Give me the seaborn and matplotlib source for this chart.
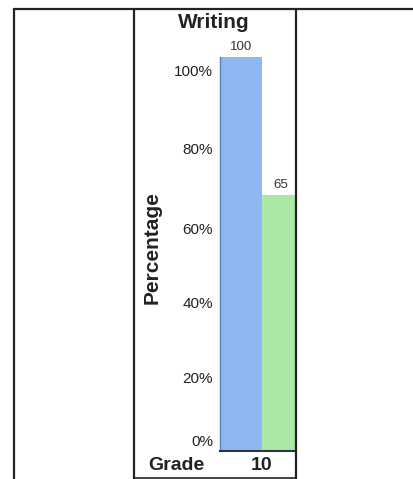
import matplotlib
matplotlib.use("Agg")
import matplotlib.pyplot as plt
import matplotlib.transforms as mtransforms
import seaborn as sns
import pandas as pd
from matplotlib.lines import Line2D

# ---- data ----
grades = ["10", "10"]
series = ["A", "B"]
values = [100, 65]
colors = ["#8FB8F3", "#A9E8A5"]
yticks = [0, 20, 40, 60, 80, 100]
ytick_labels = ["0%", "20%", "40%", "60%", "80%", "100%"]

sns.set_theme(style="white")
plt.rcParams["font.family"] = ["Liberation Sans", "DejaVu Sans"]

W, H = 414, 479
fig = plt.figure(figsize=(W / 100, H / 100), dpi=100)

def fx(px):
    return px / W

def fy(py):
    return 1 - py / H

ax_l, ax_r, ax_t, ax_b = 220, 296, 57, 451
ax = fig.add_axes([fx(ax_l), fy(ax_b), fx(ax_r - ax_l), (ax_b - ax_t) / H])

df = pd.DataFrame({"grade": grades, "series": series, "value": values})
sns.barplot(data=df, x="grade", y="value", hue="series", palette=colors,
            width=0.8, dodge=True, ax=ax, legend=False, saturation=1,
            edgecolor="none")

ax.set_ylim(0, 100)
ax.set_xlim(-0.4, 0.324)
ax.set_yticks(yticks)
ax.set_yticklabels(ytick_labels, fontsize=11, color="#222222")
ax.tick_params(axis="y", length=0, pad=5)
ax.set_xticks([0])
ax.set_xticklabels(["10"], fontsize=14, fontweight="bold", color="#222222")
ax.tick_params(axis="x", length=0, pad=4)
ax.set_xlabel("")
ax.set_ylabel("")
for s in ["top", "right"]:
    ax.spines[s].set_visible(False)
ax.spines["left"].set_color("#5a7fc0")
ax.spines["left"].set_linewidth(1.0)
ax.spines["bottom"].set_color("#333344")
ax.spines["bottom"].set_linewidth(1.5)

# nudge tick labels to where the (scanned) reference shows them
shifts_px = [11, -5, -9, -14, -13, -13]
for lab, s in zip(ax.get_yticklabels(), shifts_px):
    lab.set_transform(lab.get_transform() +
                      mtransforms.ScaledTranslation(0, s / 100, fig.dpi_scale_trans))

# data labels
for p, v in zip(ax.patches, values):
    x = p.get_x() + p.get_width() / 2
    ax.annotate(str(v), (min(x, 0.18), v), xytext=(0, 3), textcoords="offset points",
                ha="center", va="bottom", fontsize=9.5, color="#333333",
                annotation_clip=False)

# y axis title, chart title and "Grade"
fig.text(fx(152), fy(248), "Percentage", rotation=90, ha="center", va="center",
         fontsize=15, fontweight="bold", color="#222222")
fig.text(fx(214), fy(23), "Writing", ha="center", va="center", fontsize=15,
         fontweight="bold", color="#222222")
fig.text(fx(176), fy(465), "Grade", ha="center", va="center", fontsize=14,
         fontweight="bold", color="#222222")

# table frame lines
lc = "#222222"
for x in [14, 134, 296]:
    fig.add_artist(Line2D([fx(x), fx(x)], [fy(9), fy(479)], color=lc, lw=1.6))
fig.add_artist(Line2D([fx(14), fx(414)], [fy(9), fy(9)], color=lc, lw=1.6))
fig.add_artist(Line2D([fx(134), fx(296)], [fy(478), fy(478)], color=lc, lw=1.2))

fig.savefig("out.png", dpi=100)
